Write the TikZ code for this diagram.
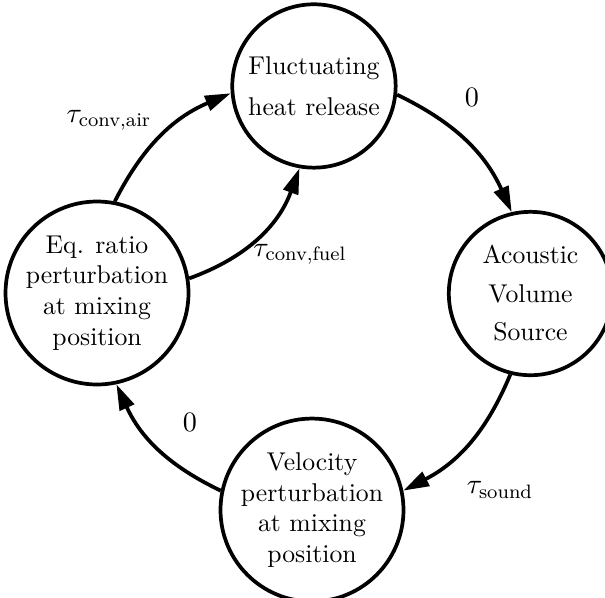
\documentclass[tikz,border=0pt]{standalone}
\usepackage{amsmath}
\usepackage{tikz}
\usetikzlibrary{arrows.meta}

\begin{document}
\begin{tikzpicture}[
MyStates/.style={draw=black,circle,line width=1.45pt,minimum size=2.235cm,inner sep=0pt,align=center},
MyEdges/.style={-{Triangle[length=10pt, width=6pt]},line width=1.45pt},
MyDelays/.style={inner sep=0pt,font=\fontsize{10.8}{13}\selectfont}
]
\clip (0,0) rectangle (8.276,-8.167);

\node[MyStates,font=\fontsize{10}{16}\selectfont] (heat) at (4.295,-1.176) {Fluctuating\\heat release};
\node[MyStates,font=\fontsize{10}{15}\selectfont] (source) at (7.257,-4.015) {Acoustic\\Volume\\Source};
\node[MyStates] (velocity) at (4.268,-6.977) {Velocity\\perturbation\\at mixing\\position};
\node[MyStates] (ratio) at (1.327,-4.008) {Eq. ratio\\perturbation\\at mixing\\position};

\draw[MyEdges] (heat.-6) to[bend left=20] (source.103);
\draw[MyEdges] (source.-104) to[bend left=20] (velocity.12);
\draw[MyEdges] (velocity.168) to[bend left=20] (ratio.-78);
\draw[MyEdges] (ratio.79) to[bend left=20] (heat.185);
\draw[MyEdges] (ratio.9) to[bend right=25] (heat.260);

\node[MyDelays] (zeroHeat) at (6.457,-1.327) {$0$};
\node[MyDelays] (tauSound) at (6.840,-6.703) {$\tau_{\text{sound}}$};
\node[MyDelays] (zeroVel) at (2.599,-5.773) {$0$};
\node[MyDelays] (tauAir) at (1.491,-1.642) {$\tau_{\text{conv,air}}$};
\node[MyDelays] (tauFuel) at (4.104,-3.475) {$\tau_{\text{conv,fuel}}$};

\end{tikzpicture}
\end{document}
